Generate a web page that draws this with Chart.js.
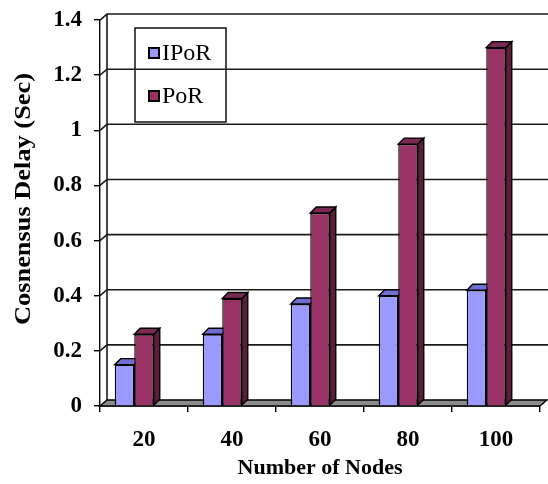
<!DOCTYPE html>
<html>
<head>
<meta charset="utf-8">
<script src="https://cdn.jsdelivr.net/npm/chart.js@4/dist/chart.umd.min.js"></script>
<style>
  html, body { margin: 0; padding: 0; background: #fff; }
  canvas { display: block; }
</style>
</head>
<body>
<canvas id="c" width="548" height="484"></canvas>
<script>
// Consensus delay per network size
const nodeCounts = ['20', '40', '60', '80', '100'];
const iporDelay  = [0.15, 0.26, 0.37, 0.40, 0.42];
const porDelay   = [0.26, 0.39, 0.70, 0.95, 1.30];
const seriesNames = ['IPoR', 'PoR'];
const yTickLabels = ['0', '0.2', '0.4', '0.6', '0.8', '1', '1.2', '1.4'];
const xTitle = 'Number of Nodes';
const yTitle = 'Cosnensus Delay (Sec)';

const SERIF = "'Liberation Serif', 'Times New Roman', serif";
const FRONT = ['#9999FF', '#993366'];
const TOP   = ['#6F6FD2', '#7A2854'];
const SIDE  = ['#5C5CB0', '#5A1D3C'];
const DEPTH_X = 6, DEPTH_Y = 6;     // bar depth
const WALL_X = 7,  WALL_Y = 6;      // floor / back wall depth

function poly(ctx, pts, fill, stroke, lw) {
  ctx.beginPath();
  ctx.moveTo(pts[0][0], pts[0][1]);
  for (let i = 1; i < pts.length; i++) ctx.lineTo(pts[i][0], pts[i][1]);
  ctx.closePath();
  if (fill) { ctx.fillStyle = fill; ctx.fill(); }
  if (stroke) { ctx.strokeStyle = stroke; ctx.lineWidth = lw || 1.5; ctx.stroke(); }
}

// Back wall grid, floor and the top/side faces of each bar
const depthPlugin = {
  id: 'depth',
  beforeDatasetsDraw(chart) {
    const ctx = chart.ctx;
    const y = chart.scales.y;
    const area = chart.chartArea;
    const W = chart.width;
    ctx.save();
    // wall gridlines
    ctx.strokeStyle = '#1a1a1a';
    ctx.lineWidth = 1.6;
    for (let i = 1; i < yTickLabels.length; i++) {
      const py = y.getPixelForValue(Number(yTickLabels[i]));
      ctx.beginPath();
      ctx.moveTo(area.left, py);
      ctx.lineTo(area.left + WALL_X, py - WALL_Y);
      ctx.lineTo(W, py - WALL_Y);
      ctx.stroke();
    }
    // back wall left edge
    const y0 = y.getPixelForValue(0), yMax = y.getPixelForValue(1.4);
    ctx.beginPath();
    ctx.moveTo(area.left + WALL_X, y0 - WALL_Y);
    ctx.lineTo(area.left + WALL_X, yMax - WALL_Y);
    ctx.stroke();
    // floor
    poly(ctx, [[area.left, y0], [area.right, y0], [area.right + WALL_X, y0 - WALL_Y], [area.left + WALL_X, y0 - WALL_Y]], '#8C8C8C', '#000', 1.4);

    // bar tops and sides (front faces are drawn by Chart.js on top)
    for (let d = 0; d < 2; d++) {
      const meta = chart.getDatasetMeta(d);
      meta.data.forEach(bar => {
        const p = bar.getProps(['x', 'y', 'base', 'width'], true);
        const l = p.x - p.width / 2, r = p.x + p.width / 2, t = p.y, b = p.base;
        poly(ctx, [[r, b], [r, t], [r + DEPTH_X, t - DEPTH_Y], [r + DEPTH_X, b - DEPTH_Y]], SIDE[d], '#000', 1.4);
        poly(ctx, [[l, t], [r, t], [r + DEPTH_X, t - DEPTH_Y], [l + DEPTH_X, t - DEPTH_Y]], TOP[d], '#000', 1.4);
      });
    }
    ctx.restore();
  },
  afterDraw(chart) {
    const ctx = chart.ctx;
    ctx.save();
    // legend box
    ctx.strokeStyle = '#000';
    ctx.lineWidth = 1.4;
    ctx.strokeRect(135, 28, 91, 94);
    const rows = [53, 96];
    ctx.font = "24px " + SERIF;
    ctx.textBaseline = 'middle';
    ctx.textAlign = 'left';
    seriesNames.forEach((name, i) => {
      const cy = rows[i];
      ctx.fillStyle = FRONT[i];
      ctx.fillRect(149, cy - 5, 10, 10);
      ctx.lineWidth = 2;
      ctx.strokeStyle = '#000';
      ctx.strokeRect(149, cy - 5, 10, 10);
      ctx.fillStyle = '#000';
      ctx.fillText(name, 162, cy + 1);
    });
    // y axis title
    ctx.translate(24, 199);
    ctx.rotate(-Math.PI / 2);
    ctx.font = "bold 23px " + SERIF;
    const w = ctx.measureText(yTitle).width;
    ctx.scale(252 / w, 1);
    ctx.textAlign = 'center';
    ctx.fillStyle = '#000';
    ctx.fillText(yTitle, 0, 0);
    ctx.restore();
  }
};

const tickFont = { family: SERIF, size: 23, weight: 'bold' };

new Chart(document.getElementById('c'), {
  type: 'bar',
  data: {
    labels: nodeCounts,
    datasets: [
      { label: seriesNames[0], data: iporDelay, backgroundColor: FRONT[0], borderColor: '#000', borderWidth: 1.4 },
      { label: seriesNames[1], data: porDelay,  backgroundColor: FRONT[1], borderColor: '#000', borderWidth: 1.4 },
      // empty slot that holds the space taken by the bar depth
      { label: 'spacer', data: nodeCounts.map(() => null) }
    ]
  },
  options: {
    responsive: false,
    animation: false,
    datasets: { bar: { categoryPercentage: 0.665, barPercentage: 1 } },
    layout: { padding: { top: 20, right: 8, left: 0, bottom: 0 } },
    plugins: { legend: { display: false }, tooltip: { enabled: false } },
    scales: {
      x: {
        grid: { drawOnChartArea: false, tickLength: 6, color: '#000', lineWidth: 1.4, offset: true },
        border: { color: '#000', width: 1.4 },
        ticks: { font: tickFont, color: '#000', padding: 14 },
        title: { display: true, text: xTitle, font: { family: SERIF, size: 22, weight: 'bold' }, color: '#000', padding: { top: 0, bottom: 2 } },
        afterFit(s) { s.height = 78; }
      },
      y: {
        min: 0, max: 1.4,
        grid: { drawOnChartArea: false, tickLength: 6, color: '#000', lineWidth: 1.4 },
        border: { color: '#000', width: 1.4 },
        ticks: { stepSize: 0.2, font: { family: SERIF, size: 23, weight: 'bold', lineHeight: 0.7 }, color: '#000', padding: 12,
                 callback: (v, i) => yTickLabels[i] },
        afterFit(s) { s.width = 100; }
      }
    }
  },
  plugins: [depthPlugin]
});
</script>
</body>
</html>
